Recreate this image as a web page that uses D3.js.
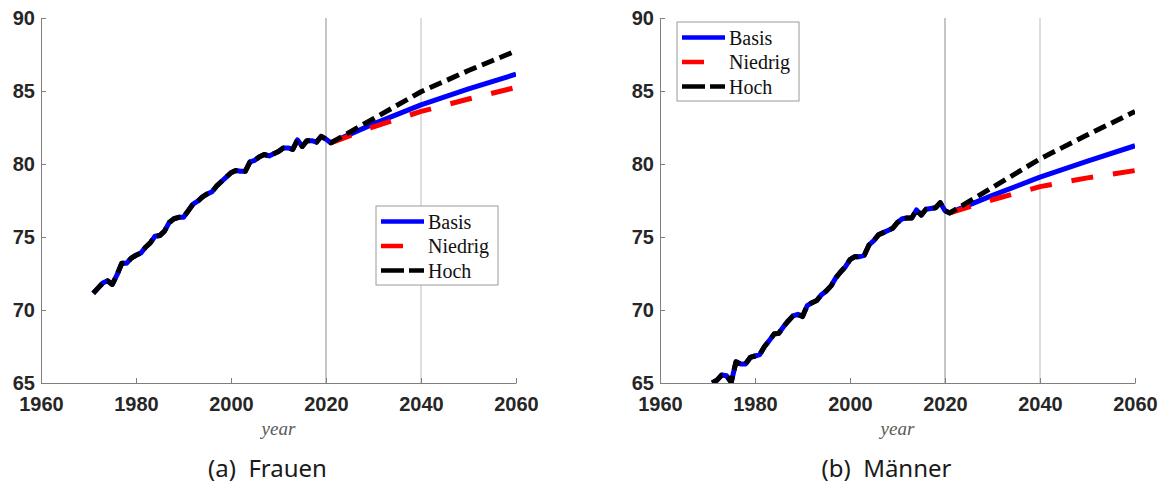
<!DOCTYPE html>
<html>
<head>
<meta charset="utf-8">
<script src="https://cdn.jsdelivr.net/npm/d3@7"></script>
<style>
  html, body { margin: 0; padding: 0; background: #fff; }
  svg { display: block; }
  .tick text { font-family: "Liberation Sans", Arial, sans-serif; font-weight: bold; font-size: 20px; fill: #262626; }
  .axis path, .axis line { stroke: #7f7f7f; stroke-width: 1; }
  .xlab { font-family: "Liberation Serif", "Times New Roman", serif; font-style: italic; font-size: 19px; fill: #595959; }
  .caption { font-family: "Noto Sans", "Open Sans", sans-serif; font-size: 24px; fill: #1a1a1a; white-space: pre; }
  .legend text { font-family: "Liberation Serif", "Times New Roman", serif; font-size: 20px; fill: #111; }
</style>
</head>
<body>
<svg id="chart" width="1163" height="489"></svg>
<script>
// Observed years (1971–2021) and projection years
const histYears = d3.range(1971, 2022);
const projYears = [2021, 2030, 2040, 2050, 2060];

// Life expectancy, women: observed
const frauenHist = [
  71.15, 71.5, 71.85, 72.0, 71.75, 72.4, 73.2, 73.2, 73.55, 73.75,
  73.9, 74.3, 74.6, 75.05, 75.1, 75.4, 76.0, 76.25, 76.35, 76.35,
  76.8, 77.25, 77.45, 77.75, 77.95, 78.1, 78.5, 78.8, 79.1, 79.4,
  79.55, 79.5, 79.5, 80.15, 80.25, 80.5, 80.65, 80.55, 80.7, 80.85,
  81.1, 81.1, 81.0, 81.65, 81.2, 81.6, 81.6, 81.5, 81.9, 81.7,
  81.45
];
// Women: projection variants
const frauenBasis   = [81.45, 82.75, 84.05, 85.15, 86.15];
const frauenNiedrig = [81.45, 82.55, 83.6, 84.45, 85.25];
const frauenHoch    = [81.45, 83.1, 84.95, 86.4, 87.75];

// Life expectancy, men: observed
const maennerHist = [
  65.0, 65.2, 65.55, 65.5, 65.05, 66.45, 66.3, 66.3, 66.75, 66.85,
  66.95, 67.5, 67.9, 68.35, 68.4, 68.85, 69.25, 69.6, 69.7, 69.55,
  70.3, 70.5, 70.65, 71.05, 71.3, 71.65, 72.2, 72.6, 72.95, 73.45,
  73.65, 73.65, 73.75, 74.45, 74.75, 75.15, 75.3, 75.45, 75.6, 76.0,
  76.25, 76.3, 76.3, 76.85, 76.5, 76.9, 76.95, 77.0, 77.35, 76.8,
  76.65
];
// Men: projection variants
const maennerBasis   = [76.65, 77.85, 79.1, 80.2, 81.25];
const maennerNiedrig = [76.65, 77.55, 78.45, 79.05, 79.55];
const maennerHoch    = [76.65, 78.4, 80.35, 82.0, 83.6];

const xTicks = [1960, 1980, 2000, 2020, 2040, 2060];
const yTicks = [65, 70, 75, 80, 85, 90];
const refYears = [2020, 2040];
const seriesNames = ["Basis", "Niedrig", "Hoch"];
const captions = ["(a)  Frauen", "(b)  Männer"];

const styles = {
  Basis:   { color: "#0000ff", dash: null,   legendDash: null },
  Niedrig: { color: "#ff0000", dash: "22,20", legendDash: "22,30" },
  Hoch:    { color: "#000000", dash: "13,6",  legendDash: "23,5" }
};

const svg = d3.select("#chart");

function zip(xs, ys) { return xs.map((x, i) => ({ x, y: ys[i] })); }

function panel(opts) {
  const { left, right, top, bottom, hist, basis, niedrig, hoch, caption, legendPos, id } = opts;
  const x = d3.scaleLinear().domain([1960, 2060]).range([left, right]);
  const y = d3.scaleLinear().domain([65, 90]).range([bottom, top]);
  const g = svg.append("g");

  g.append("clipPath").attr("id", "clip" + id)
    .append("rect").attr("x", left).attr("y", top)
    .attr("width", right - left).attr("height", bottom - top);

  // reference lines at 2020 and 2040
  g.selectAll(".ref").data(refYears).join("line")
    .attr("x1", d => x(d)).attr("x2", d => x(d))
    .attr("y1", top).attr("y2", bottom)
    .attr("stroke", (d, i) => i === 0 ? "#8c8c8c" : "#bdbdbd")
    .attr("stroke-width", 1);

  // axes
  g.append("g").attr("class", "axis")
    .attr("transform", `translate(0,${bottom})`)
    .call(d3.axisBottom(x).tickValues(xTicks).tickFormat(d3.format("d"))
      .tickSizeInner(-5).tickSizeOuter(0).tickPadding(14));
  g.append("g").attr("class", "axis")
    .attr("transform", `translate(${left},0)`)
    .call(d3.axisLeft(y).tickValues(yTicks).tickFormat(d3.format("d"))
      .tickSizeInner(-5).tickSizeOuter(0).tickPadding(6));

  const line = d3.line().x(d => x(d.x)).y(d => y(d.y));
  const data = {
    Basis: zip(histYears, hist).concat(zip(projYears.slice(1), basis.slice(1))),
    Niedrig: zip(projYears, niedrig),
    Hoch: zip(histYears, hist).concat(zip(projYears.slice(1), hoch.slice(1)))
  };
  const lines = g.append("g").attr("clip-path", `url(#clip${id})`);
  seriesNames.forEach(name => {
    lines.append("path")
      .datum(data[name])
      .attr("d", line)
      .attr("fill", "none")
      .attr("stroke", styles[name].color)
      .attr("stroke-width", 5)
      .attr("stroke-linejoin", "round")
      .attr("stroke-dasharray", styles[name].dash);
  });

  // x-axis label
  g.append("text").attr("class", "xlab")
    .attr("x", (left + right) / 2).attr("y", 435)
    .attr("text-anchor", "middle").text("year");

  // caption
  g.append("text").attr("class", "caption")
    .attr("x", (left + right) / 2 - 11).attr("y", 477)
    .attr("text-anchor", "middle").text(caption);

  // legend
  const lg = g.append("g").attr("class", "legend")
    .attr("transform", `translate(${legendPos[0]},${legendPos[1]})`);
  lg.append("rect").attr("x", 0).attr("y", 0).attr("width", 122).attr("height", 79)
    .attr("fill", "#fff").attr("stroke", "#9a9a9a").attr("stroke-width", 1);
  const rowY = [15.5, 40, 64.5];
  seriesNames.forEach((name, i) => {
    lg.append("line")
      .attr("x1", 5).attr("x2", 48).attr("y1", rowY[i]).attr("y2", rowY[i])
      .attr("stroke", styles[name].color).attr("stroke-width", 4.5)
      .attr("stroke-dasharray", styles[name].legendDash);
    lg.append("text").attr("x", 52).attr("y", rowY[i]).attr("dy", "0.35em").text(name);
  });
}

panel({ id: "a", left: 41, right: 516, top: 18, bottom: 383,
  hist: frauenHist, basis: frauenBasis, niedrig: frauenNiedrig, hoch: frauenHoch,
  caption: captions[0], legendPos: [376, 206] });
panel({ id: "b", left: 660, right: 1135, top: 18, bottom: 383,
  hist: maennerHist, basis: maennerBasis, niedrig: maennerNiedrig, hoch: maennerHoch,
  caption: captions[1], legendPos: [677, 22] });
</script>
</body>
</html>
